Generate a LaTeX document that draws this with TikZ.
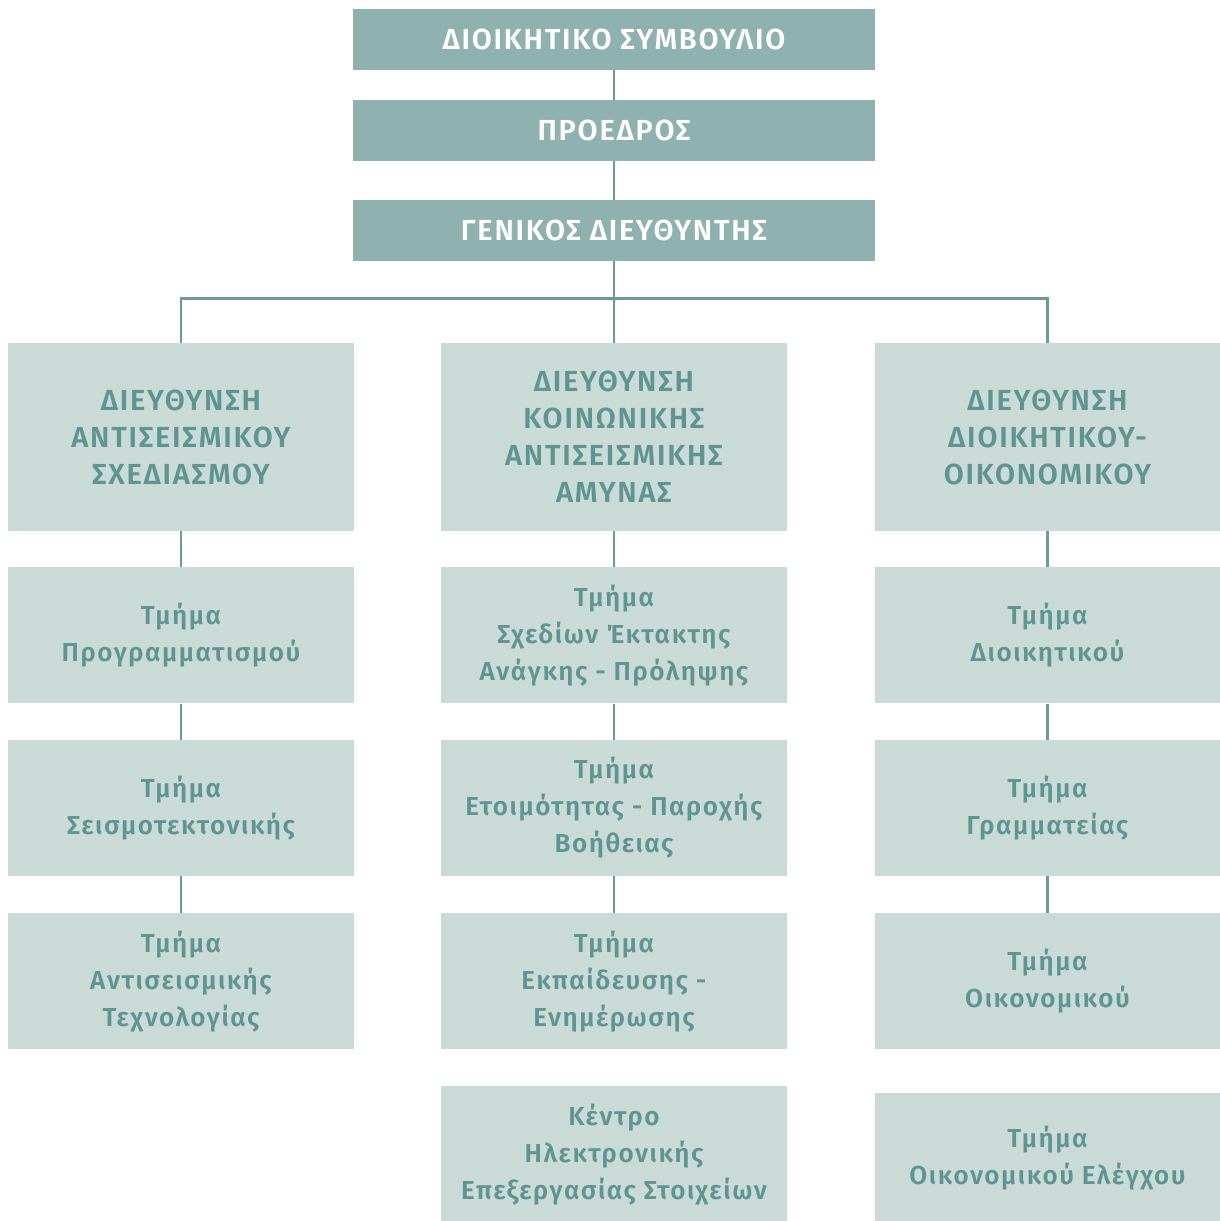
\documentclass[tikz,border=0pt]{standalone}
\usepackage{fontspec}
\setmainfont{Fira Sans}[UprightFont=* SemiBold,LetterSpace=6]
\usetikzlibrary{positioning}
\definecolor{darkbox}{HTML}{8FB1AF}
\definecolor{lightbox}{HTML}{CADAD7}
\definecolor{boxtext}{HTML}{5F9591}
\definecolor{linkline}{HTML}{6B9B98}

\begin{document}
\begin{tikzpicture}[x=1pt,y=-1pt,
            top/.style={fill=darkbox,text=white,minimum width=522pt,minimum height=61pt,inner sep=0pt,font=\fontsize{29}{37}\selectfont},
            dir/.style={fill=lightbox,text=boxtext,minimum width=346pt,minimum height=188pt,inner sep=0pt,align=center,font=\fontsize{29}{37}\selectfont},
            dept/.style={dir,minimum height=136pt,font=\fontsize{26}{37}\selectfont,node distance=36pt},
            link/.style={draw=linkline,line width=2.6pt}
          ]
          \useasboundingbox (0,0) rectangle (1220,1221);

          %management
          \node[top] (board) at (614,39.5) {ΔΙΟΙΚΗΤΙΚΟ ΣΥΜΒΟΥΛΙΟ};
          \node[top] (pres) at (614,130.5) {ΠΡΟΕΔΡΟΣ};
          \node[top] (gm) at (614,230.5) {ΓΕΝΙΚΟΣ ΔΙΕΥΘΥΝΤΗΣ};

          %directorates
          \node[dir] (dirA) at (181,437) {ΔΙΕΥΘΥΝΣΗ\\ΑΝΤΙΣΕΙΣΜΙΚΟΥ\\ΣΧΕΔΙΑΣΜΟΥ};
          \node[dir] (dirB) at (614,437) {ΔΙΕΥΘΥΝΣΗ\\ΚΟΙΝΩΝΙΚΗΣ\\ΑΝΤΙΣΕΙΣΜΙΚΗΣ\\ΑΜΥΝΑΣ};
          \node[dir,minimum width=345pt] (dirC) at (1047.5,437) {ΔΙΕΥΘΥΝΣΗ\\ΔΙΟΙΚΗΤΙΚΟΥ-\\ΟΙΚΟΝΟΜΙΚΟΥ};

          %departments
          \node[dept,below=of dirA] (depA1) {Τμήμα\\Προγραμματισμού};
          \node[dept,below=of depA1] (depA2) {Τμήμα\\Σεισμοτεκτονικής};
          \node[dept,below=37pt of depA2] (depA3) {Τμήμα\\Αντισεισμικής\\Τεχνολογίας};

          \node[dept,below=of dirB] (depB1) {Τμήμα\\Σχεδίων Έκτακτης\\Ανάγκης - Πρόληψης};
          \node[dept,below=of depB1] (depB2) {Τμήμα\\Ετοιμότητας - Παροχής\\Βοήθειας};
          \node[dept,below=37pt of depB2] (depB3) {Τμήμα\\Εκπαίδευσης -\\Ενημέρωσης};
          \node[dept,below=of depB3,minimum height=137pt] (depB4) {Κέντρο\\Ηλεκτρονικής\\Επεξεργασίας Στοιχείων};

          \node[dept,below=of dirC,minimum width=345pt] (depC1) {Τμήμα\\Διοικητικού};
          \node[dept,below=of depC1,minimum width=345pt] (depC2) {Τμήμα\\Γραμματείας};
          \node[dept,below=37pt of depC2,minimum width=345pt] (depC3) {Τμήμα\\Οικονομικού};
          \node[dept,below=43pt of depC3,minimum width=345pt,minimum height=130pt] (depC4) {Τμήμα\\Οικονομικού Ελέγχου};

          %links
          \coordinate (bus) at (614,298.5);
          \draw[link] (dirA.north) |- (bus) -| (dirC.north);
          \path[link]
          (board) edge (pres)
          (pres) edge (gm)
          (gm) edge (dirB)
          (dirA) edge (depA1)
          (depA1) edge (depA2)
          (depA2) edge (depA3)
          (dirB) edge (depB1)
          (depB1) edge (depB2)
          (depB2) edge (depB3)
          (dirC) edge (depC1)
          (depC1) edge (depC2)
          (depC2) edge (depC3)
          ;

      \end{tikzpicture}
\end{document}
